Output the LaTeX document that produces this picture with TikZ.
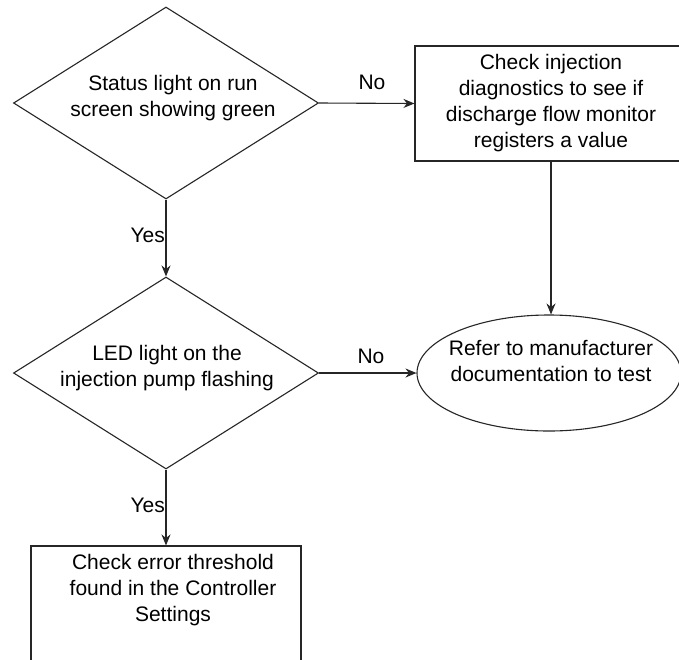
\documentclass[tikz,border=0pt]{standalone}
\usepackage{fontspec}
\setmainfont{Liberation Sans}
\usetikzlibrary{shapes.geometric,arrows.meta}
\begin{document}
\begin{tikzpicture}[x=1pt,y=-1pt,
  every node/.style={font=\fontsize{21}{26}\selectfont},
  shapeline/.style={draw=black!85,line width=1.1pt},
  decision/.style={shapeline,diamond,inner sep=0pt,aspect=1.6},
  procbox/.style={shapeline,rectangle,inner sep=0pt},
  endoval/.style={shapeline,ellipse,inner sep=0pt},
  txt/.style={align=center,inner sep=0pt},
  arr/.style={draw=black!85,line width=1.1pt,-{Stealth[length=11pt,width=9pt]}},
  lbl/.style={inner sep=0pt}]
\clip (0,0) rectangle (679,659);
\fill[white] (0,0) rectangle (679,659);

\node[decision,minimum width=305pt,minimum height=192pt] (d1) at (166,103) {};
\node[txt] (d1t) at (173,98) {Status light on run\\screen showing green};

\node[procbox,minimum width=272pt,minimum height=115pt,align=center] (b1) at (551,103.5)
  {Check injection\\diagnostics to see if\\discharge flow monitor\\registers a value};

\node[decision,minimum width=305pt,minimum height=192pt] (d2) at (166,373) {};
\node[txt] (d2t) at (167,368) {LED light on the\\injection pump flashing};

\node[endoval,minimum width=264pt,minimum height=116pt] (ell) at (549,373) {};
\node[txt] (ellt) at (551,361) {Refer to manufacturer\\documentation to test};

\node[procbox,minimum width=270pt,minimum height=148pt] (b2) at (166,620) {};
\node[txt] (b2t) at (173,590) {Check error threshold\\found in the Controller\\Settings};

\draw[arr] (d1.east) -- (b1.west);
\draw[arr] (d1.south) -- (d2.north);
\draw[arr] (b1.south) -- (b1.south |- ell.north);
\draw[arr] (d2.east) -- (ell.west);
\draw[arr] (d2.south) -- (b2.north);

\node[lbl] (no1) at (372,82) {No};
\node[lbl] (no2) at (371,356) {No};
\node[lbl,anchor=east] (yes1) at (165,235) {Yes};
\node[lbl,anchor=east] (yes2) at (165,505) {Yes};
\end{tikzpicture}
\end{document}
